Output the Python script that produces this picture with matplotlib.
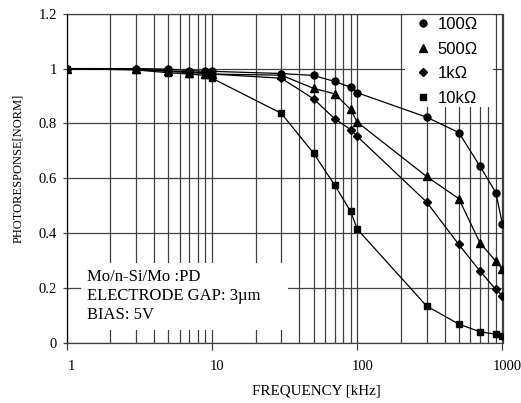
#!/usr/bin/env python3
"""Mo/n-Si/Mo PD frequency response (normalised photoresponse vs frequency)."""

import matplotlib
matplotlib.use('Agg')
import matplotlib.pyplot as plt
from matplotlib.lines import Line2D
from matplotlib.patches import Rectangle
from matplotlib.ticker import FixedLocator, LogLocator, NullFormatter
from matplotlib.transforms import ScaledTranslation

SERIF = ['Liberation Serif', 'DejaVu Serif']
SANS = ['Liberation Sans', 'DejaVu Sans']

# frequency points [kHz]
freq = [1, 3, 5, 7, 9, 10, 30, 50, 70, 90, 100, 300, 500, 700, 900, 1000]

# normalised photoresponse per load resistance
resp_100 = [1.0, 1.0, 0.998, 0.993, 0.99, 0.99, 0.982, 0.975, 0.953, 0.932,
            0.912, 0.823, 0.767, 0.644, 0.548, 0.432]
resp_500 = [1.0, 0.997, 0.99, 0.985, 0.982, 0.98, 0.976, 0.928, 0.908, 0.851,
            0.805, 0.607, 0.526, 0.365, 0.298, 0.268]
resp_1k = [1.0, 0.997, 0.992, 0.988, 0.985, 0.98, 0.965, 0.890, 0.817, 0.778,
           0.753, 0.514, 0.359, 0.262, 0.195, 0.172]
resp_10k = [1.0, 0.995, 0.985, 0.98, 0.975, 0.965, 0.837, 0.692, 0.575, 0.48,
            0.415, 0.135, 0.069, 0.041, 0.032, 0.027]

series_labels = ['100\u03a9', '500\u03a9', '1k\u03a9', '10k\u03a9']
series_markers = ['o', '^', 'D', 's']
marker_sizes = [5.0, 5.5, 4.2, 4.8]

y_ticks = [0, 0.2, 0.4, 0.6, 0.8, 1.0, 1.2]
y_tick_labels = ['0', '0.2', '0.4', '0.6', '0.8', '1', '1.2']
x_ticks = [1, 10, 100, 1000]
x_tick_labels = ['1', '10', '100', '1000']

GRID = '0.25'

fig = plt.figure(figsize=(5.21, 4.03), dpi=100)
ax = fig.add_axes([66.7 / 521, 60 / 403, 435.8 / 521, 329.3 / 403])

all_series = [resp_100, resp_500, resp_1k, resp_10k]
for vals, mk, ms in zip(all_series, series_markers, marker_sizes):
    ax.plot(freq, vals, color='black', lw=0.9, marker=mk, markersize=ms,
            markerfacecolor='black', markeredgecolor='black', zorder=3)

ax.set_xscale('log')
ax.set_xlim(1, 1000)
ax.set_ylim(0, 1.2)

ax.xaxis.set_major_locator(FixedLocator(x_ticks))
ax.set_xticklabels(x_tick_labels)
ax.xaxis.set_minor_locator(LogLocator(base=10, subs=range(2, 10)))
ax.xaxis.set_minor_formatter(NullFormatter())
ax.set_yticks(y_ticks)
ax.set_yticklabels(y_tick_labels)

ax.grid(True, which='both', axis='x', color=GRID, lw=0.9)
ax.grid(True, which='major', axis='y', color=GRID, lw=0.9)

for sp in ax.spines.values():
    sp.set_color(GRID)
    sp.set_linewidth(0.9)
ax.spines['left'].set_color('black')

ax.tick_params(axis='x', which='major', direction='out', length=5, width=0.9,
               pad=7.5, labelsize=10.5, color=GRID)
ax.tick_params(axis='x', which='minor', length=0)
ax.tick_params(axis='y', direction='out', length=3, width=0.9, pad=4,
               labelsize=10.5, color=GRID)
for lab in ax.get_xticklabels() + ax.get_yticklabels():
    lab.set_family(SERIF)
# x tick labels sit slightly right of their ticks in the original
shift = ScaledTranslation(0.05, 0, fig.dpi_scale_trans)
for lab in ax.get_xticklabels():
    lab.set_transform(lab.get_transform() + shift)

# white box behind the annotation
ax.add_patch(Rectangle((0.033, 0.0395), 0.475, 0.2035, transform=ax.transAxes,
                       facecolor='white', edgecolor='none', zorder=1.8))
ax.text(0.0466, 0.1427, 'Mo/n-Si/Mo :PD\nELECTRODE GAP: 3\u00b5m\nBIAS: 5V',
        transform=ax.transAxes, ha='left', va='center', fontsize=12,
        family=SERIF, linespacing=1.25, zorder=4)

# white box behind the legend
ax.add_patch(Rectangle((0.776, 0.718), 0.202, 0.281, transform=ax.transAxes,
                       facecolor='white', edgecolor='none', zorder=1.8))
handles = [Line2D([], [], ls='none', marker=mk, color='black', markersize=ms)
           for mk, ms in zip(series_markers, marker_sizes)]
leg = ax.legend(handles, series_labels, loc='upper left',
                bbox_to_anchor=(0.8015, 0.99), frameon=False, borderpad=0,
                borderaxespad=0, handlelength=0.8, handletextpad=0.5,
                labelspacing=0.58, prop={'family': SANS, 'size': 12})
leg.set_zorder(5)

fig.text(316 / 521, 12 / 403, 'FREQUENCY [kHz]', ha='center', va='center',
         fontsize=10.8, family=SERIF)
fig.text(18 / 521, 235 / 403, 'PHOTORESPONSE[NORM]', ha='center',
         va='center', rotation=90, fontsize=9, family=SERIF)

fig.savefig('out.png', dpi=100)
